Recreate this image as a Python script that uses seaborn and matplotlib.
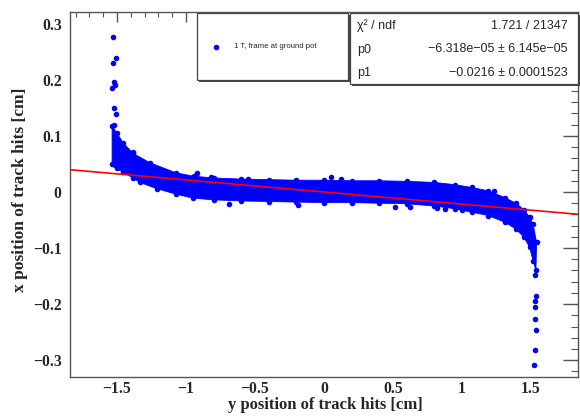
import numpy as np
import pandas as pd
import matplotlib
matplotlib.use('Agg')
import matplotlib.pyplot as plt
import seaborn as sns
from matplotlib.patches import Rectangle
from matplotlib.lines import Line2D
from matplotlib.ticker import MultipleLocator, FuncFormatter

# dense band of hits: upper and lower edges
# (horizontal: y position, vertical: x position)
top_y = [-1.535, -1.50, -1.456, -1.384, -1.26, -1.07, -0.94, -0.80, -0.60, -0.40,
         -0.20, 0.00, 0.20, 0.40, 0.60, 0.80, 0.95, 1.07, 1.19, 1.31,
         1.39, 1.45, 1.49, 1.515, 1.54]
top_x = [0.118, 0.105, 0.088, 0.069, 0.052, 0.034, 0.028, 0.025, 0.023, 0.022,
         0.021, 0.021, 0.020, 0.020, 0.019, 0.017, 0.013, 0.008, 0.002, -0.010,
         -0.020, -0.032, -0.045, -0.058, -0.090]
bot_y = [-1.535, -1.50, -1.456, -1.384, -1.334, -1.213, -1.07, -0.95, -0.80, -0.60,
         -0.40, -0.20, 0.00, 0.20, 0.40, 0.60, 0.80, 0.95, 1.07, 1.19,
         1.31, 1.39, 1.45, 1.49, 1.515, 1.535]
bot_x = [0.050, 0.042, 0.035, 0.025, 0.017, 0.006, -0.004, -0.011, -0.014, -0.016,
         -0.017, -0.018, -0.019, -0.019, -0.020, -0.021, -0.025, -0.030, -0.036, -0.042,
         -0.054, -0.066, -0.081, -0.099, -0.123, -0.139]

# isolated hits
out_y = [-1.526, -1.509, -1.526, -1.519, -1.514, -1.538, -1.521, -1.509, -1.519,
         -1.514, -1.386, -0.920, -0.817, -0.553, -0.685, -0.190, 0.053, 0.120,
         0.517, 0.625, 0.820, 0.877, 0.997, 1.233,
         1.526, 1.533, 1.526, 1.526, 1.526, 1.533, 1.526, 1.519]
out_x = [0.276, 0.239, 0.230, 0.197, 0.191, 0.185, 0.149, 0.139, 0.120,
         0.048, 0.071, 0.033, 0.026, 0.024, -0.021, -0.024, 0.026, 0.024,
         -0.026, -0.026, -0.028, -0.031, -0.032, 0.001,
         -0.148, -0.185, -0.194, -0.206, -0.227, -0.246, -0.281, -0.308]

# linear fit result
p0 = -6.318e-05
p1 = -0.0216
stats_rows = [("χ² / ndf", "1.721 / 21347"),
              ("p0", "−6.318e−05 ± 6.145e−05"),
              ("p1", "−0.0216 ± 0.0001523")]
legend_label = "1 T, frame at ground pot"

xmin, xmax = -1.84, 1.84
ymin, ymax = -0.330, 0.321

sns.set_style('white')
plt.rcParams['font.family'] = ['Liberation Serif', 'DejaVu Serif']

fig = plt.figure(figsize=(5.8, 4.17), dpi=100)
ax = fig.add_axes([70 / 580, 1 - 377 / 417, 508 / 580, 365 / 417])

blue = '#0000ff'
ax.fill(top_y + bot_y[::-1], top_x + bot_x[::-1], facecolor=blue,
        edgecolor=blue, lw=0.6, zorder=2)

pts = pd.DataFrame({
    'ypos': top_y + bot_y + out_y,
    'xpos': top_x + bot_x + out_x,
})
sns.scatterplot(data=pts, x='ypos', y='xpos', ax=ax, color=blue, s=16,
                linewidth=0, zorder=3)

fit = pd.DataFrame({'ypos': [xmin, xmax]})
fit['xpos'] = p0 + p1 * fit['ypos']
sns.lineplot(data=fit, x='ypos', y='xpos', ax=ax, color='red', lw=1.2, zorder=4)

ax.set_xlim(xmin, xmax)
ax.set_ylim(ymin, ymax)
ax.set_xlabel('')
ax.set_ylabel('')

ax.xaxis.set_major_locator(MultipleLocator(0.5))
ax.xaxis.set_minor_locator(MultipleLocator(0.1))
ax.yaxis.set_major_locator(MultipleLocator(0.1))
ax.yaxis.set_minor_locator(MultipleLocator(0.02))
fmt = FuncFormatter(lambda v, p: ('%g' % round(v, 6)).replace('-', '−'))
ax.xaxis.set_major_formatter(fmt)
ax.yaxis.set_major_formatter(fmt)

ax.tick_params(which='both', direction='in', top=True, right=True, color='#555555')
ax.tick_params(axis='x', which='major', length=7, width=1, pad=3)
ax.tick_params(axis='x', which='minor', length=3.6, width=0.8)
ax.tick_params(axis='y', which='major', length=10.5, width=1, pad=6)
ax.tick_params(axis='y', which='minor', length=5.4, width=0.8)
for lab in ax.get_xticklabels() + ax.get_yticklabels():
    lab.set_fontweight('bold')
    lab.set_fontsize(11.3)
for sp in ax.spines.values():
    sp.set_color('#555555')
    sp.set_linewidth(1)

fig.text(325 / 580, 1 - 405 / 417, 'y position of track hits [cm]', ha='center',
         va='center', fontsize=12, fontweight='bold')
fig.text(20 / 580, 1 - 190 / 417, 'x position of track hits [cm]', ha='center',
         va='center', rotation=90, fontsize=12.5, fontweight='bold')

sans = ['Liberation Sans', 'DejaVu Sans']


def box(x0, y0, x1, y1):
    w = (x1 - x0) / 580
    h = (y1 - y0) / 417
    fx = x0 / 580
    fy = 1 - y1 / 417
    fig.patches.append(Rectangle((fx + 1.5 / 580, fy - 1.5 / 417), w, h,
                                 transform=fig.transFigure, facecolor='#444444',
                                 edgecolor='none', zorder=10))
    fig.patches.append(Rectangle((fx, fy), w, h, transform=fig.transFigure,
                                 facecolor='white', edgecolor='#444444', lw=0.9,
                                 zorder=11))


# legend
box(197, 13, 348, 80)
fig.lines.append(Line2D([216 / 580], [1 - 46.7 / 417], transform=fig.transFigure,
                        marker='o', color=blue, markersize=3.0, lw=0, zorder=12))
fig.text(234 / 580, 1 - 46.7 / 417, legend_label, ha='left', va='center',
         fontsize=5.6, family=sans, zorder=12)

# fit statistics
box(350, 13, 578, 84)
for i, (name, val) in enumerate(stats_rows):
    yy = 1 - (26 + 23.5 * i) / 417
    fig.text(357 / 580, yy, name, ha='left', va='center', fontsize=9,
             family=sans, zorder=12)
    fig.text(568 / 580, yy, val, ha='right', va='center', fontsize=9,
             family=sans, zorder=12)

fig.savefig('out.png', dpi=100)
